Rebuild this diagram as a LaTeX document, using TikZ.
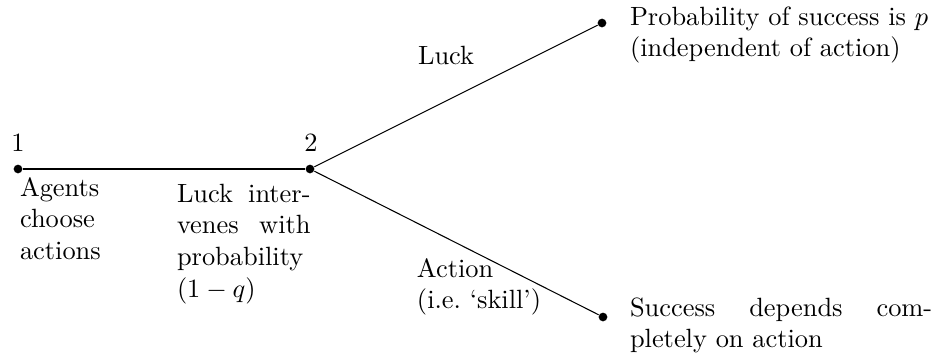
\documentclass[tikz,border=0pt]{standalone}
\begin{document}
\begin{tikzpicture}[x=0.3788pt,y=-0.3788pt,
  dot/.style={circle,fill=black,inner sep=0pt,minimum size=3.3pt},
  branch/.style={line width=0.4pt},
  txt/.style={anchor=base west,inner sep=0pt,outer sep=0pt},
  num/.style={anchor=base,inner sep=0pt}]
\useasboundingbox (0,0) rectangle (942,356);
\node[dot] (n1) at (18,169) {};
\node[dot] (n2) at (310,169) {};
\node[dot] (up) at (602,23) {};
\node[dot] (lo) at (603,317) {};
\draw[branch] (n1) -- (n2);
\draw[branch] (n2) -- (up);
\draw[branch] (n2) -- (lo);
\node[num] (l1) at (18,151) {1};
\node[num] (l2) at (311,151) {2};
\node[txt] (agents) at (20,196) {\parbox[t]{60pt}{\raggedright Agents\\choose\\actions}};
\node[txt] (inter) at (177,202) {\parbox[t]{50.6pt}{Luck inter-\linebreak venes with\linebreak probability\linebreak $(1-q)$}};
\node[txt] (luck) at (418,64) {Luck};
\node[txt] (action) at (417,277) {\parbox[t]{60pt}{\raggedright Action\\(i.e.\ `skill')}};
\node[txt] (prob) at (630,25) {\parbox[t]{115pt}{\raggedright Probability of success is $p$\\(independent of action)}};
\node[txt] (succ) at (630,316) {\parbox[t]{114.5pt}{Success depends com-\linebreak pletely on action}};
\end{tikzpicture}
\end{document}
